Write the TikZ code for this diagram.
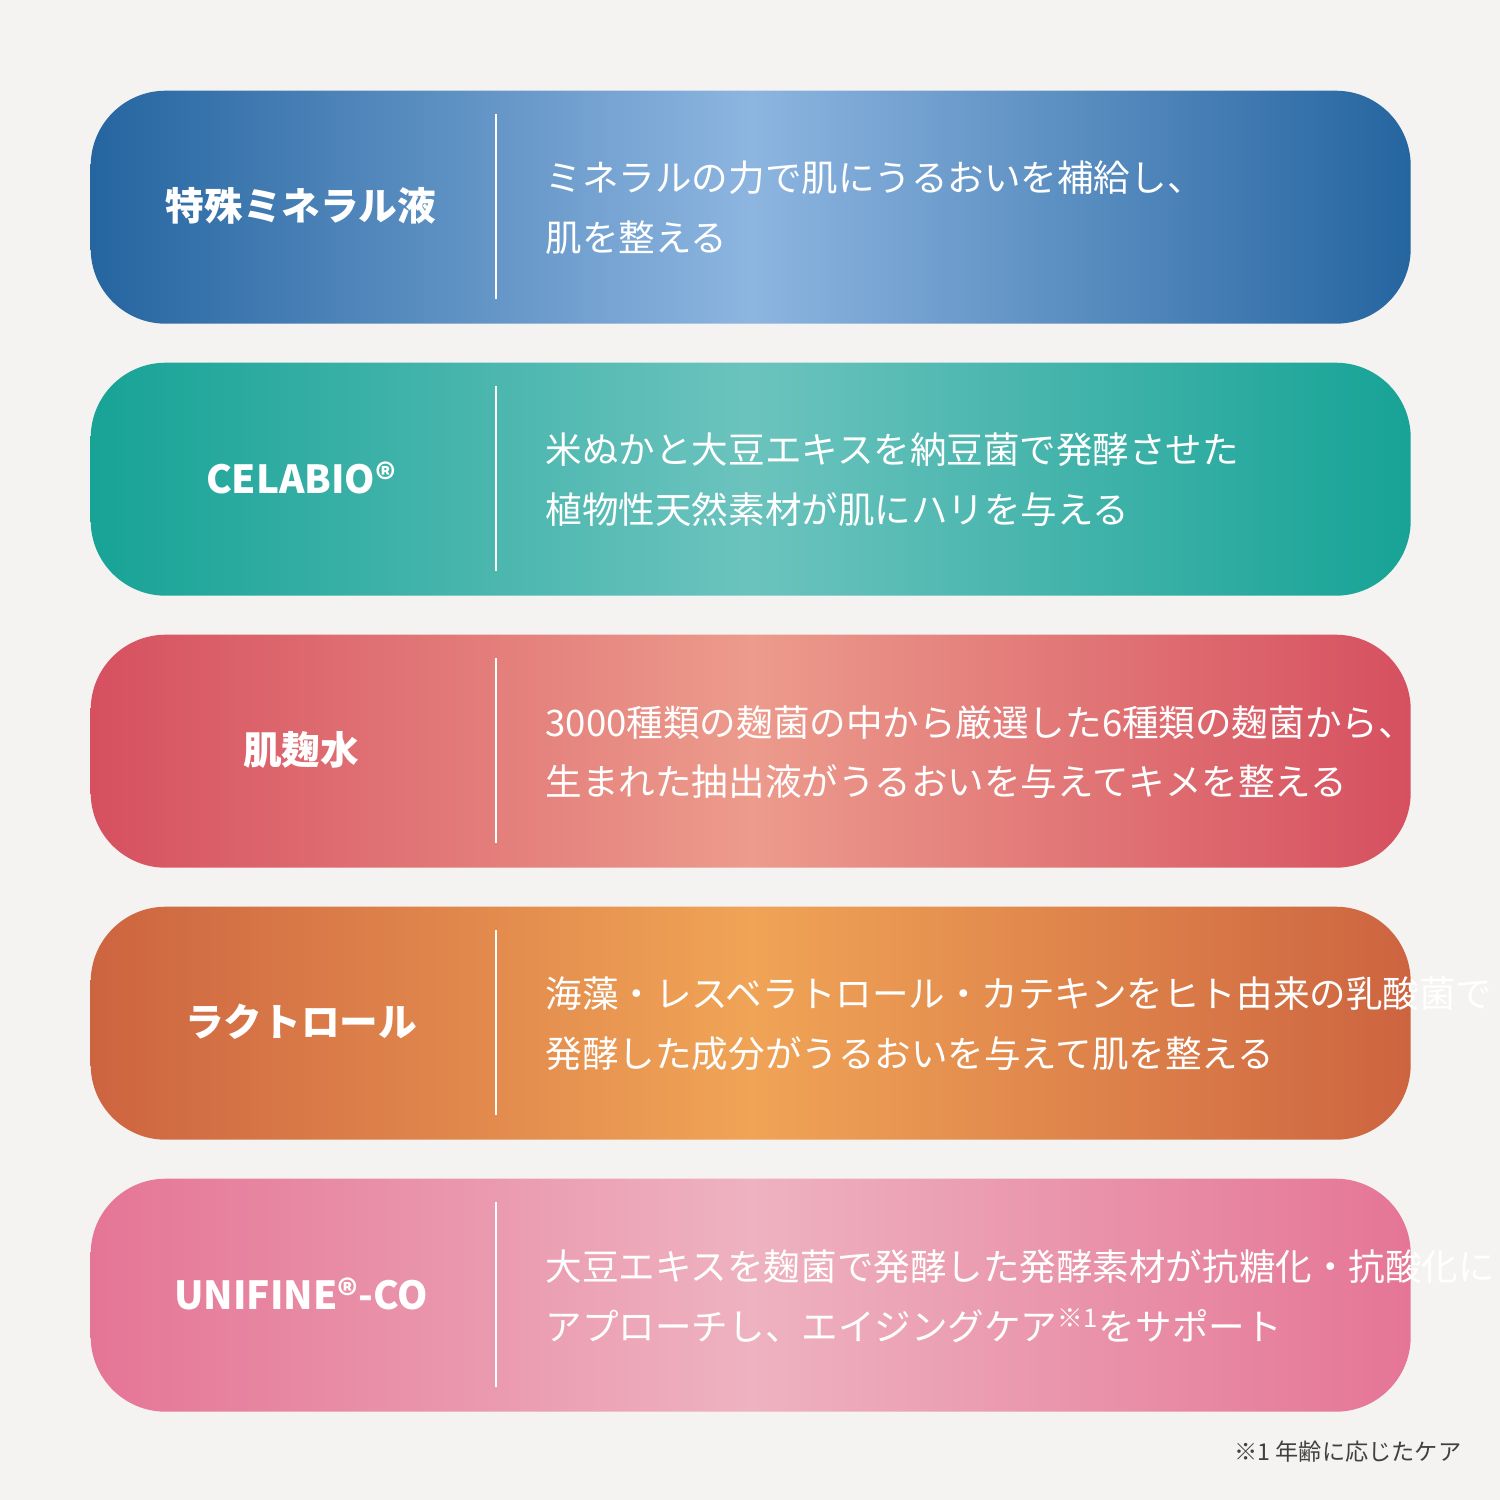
\documentclass[tikz,border=0pt]{standalone}
\usepackage{fontspec}
\newfontfamily\jp{Noto Sans CJK JP}
\setmainfont{Noto Sans CJK JP}
\definecolor{bg}{HTML}{F4F3F1}
\definecolor{aE}{HTML}{2565A0}\definecolor{aC}{HTML}{8DB5E0}
\definecolor{bE}{HTML}{17A396}\definecolor{bC}{HTML}{6CC3BE}
\definecolor{cE}{HTML}{D65060}\definecolor{cC}{HTML}{EC9B8C}
\definecolor{dE}{HTML}{CD6440}\definecolor{dC}{HTML}{F0A456}
\definecolor{eE}{HTML}{E57596}\definecolor{eC}{HTML}{EEB2C0}
\begin{document}
\begin{tikzpicture}[x=0.1mm,y=-0.1mm,
  card/.style={rounded corners=7.5mm,minimum width=132mm,minimum height=23.3mm,inner sep=0pt,anchor=north west},
  lbl/.style={text=white,font=\fontsize{11pt}{14pt}\selectfont\bfseries,anchor=center},
  body/.style={text=white,font=\fontsize{10.4pt}{17pt}\selectfont,anchor=west,align=left,inner sep=0pt},
  divl/.style={white,line width=0.5pt}]
\fill[bg] (0,0) rectangle (1500,1500);
\useasboundingbox (0,0) rectangle (1500,1500);
\foreach \y/\e/\c/\n in {90/aE/aC/b1,362/bE/bC/b2,634/cE/cC/b3,906/dE/dC/b4,1178/eE/eC/b5}{
  \node[card,left color=\e,right color=\e,middle color=\c] (\n) at (90,\y) {};
  \draw[divl] (496,\y+24) -- (496,\y+209);
}
\node[lbl] (l1) at (301,206) {特殊ミネラル液};
\node[lbl] (l2) at (301,478) {CELABIO®};
\node[lbl] (l3) at (301,750) {肌麹水};
\node[lbl] (l4) at (301,1022) {ラクトロール};
\node[lbl] (l5) at (301,1294) {UNIFINE®-CO};
\node[body] (t1) at (545,208) {ミネラルの力で肌にうるおいを補給し、\\肌を整える};
\node[body] (t2) at (545,480) {米ぬかと大豆エキスを納豆菌で発酵させた\\植物性天然素材が肌にハリを与える};
\node[body] (t3) at (545,752) {3000種類の麹菌の中から厳選した6種類の麹菌から、\\生まれた抽出液がうるおいを与えてキメを整える};
\node[body] (t4) at (545,1024) {海藻・レスベラトロール・カテキンをヒト由来の乳酸菌で\\発酵した成分がうるおいを与えて肌を整える};
\node[body] (t5) at (545,1296) {大豆エキスを麹菌で発酵した発酵素材が抗糖化・抗酸化に\\アプローチし、エイジングケア\textsuperscript{※1}をサポート};
\node[anchor=east,text=black!75,font=\fontsize{6.6pt}{8pt}\selectfont,inner sep=0pt] (fn) at (1462,1452) {※1 年齢に応じたケア};
\end{tikzpicture}
\end{document}
